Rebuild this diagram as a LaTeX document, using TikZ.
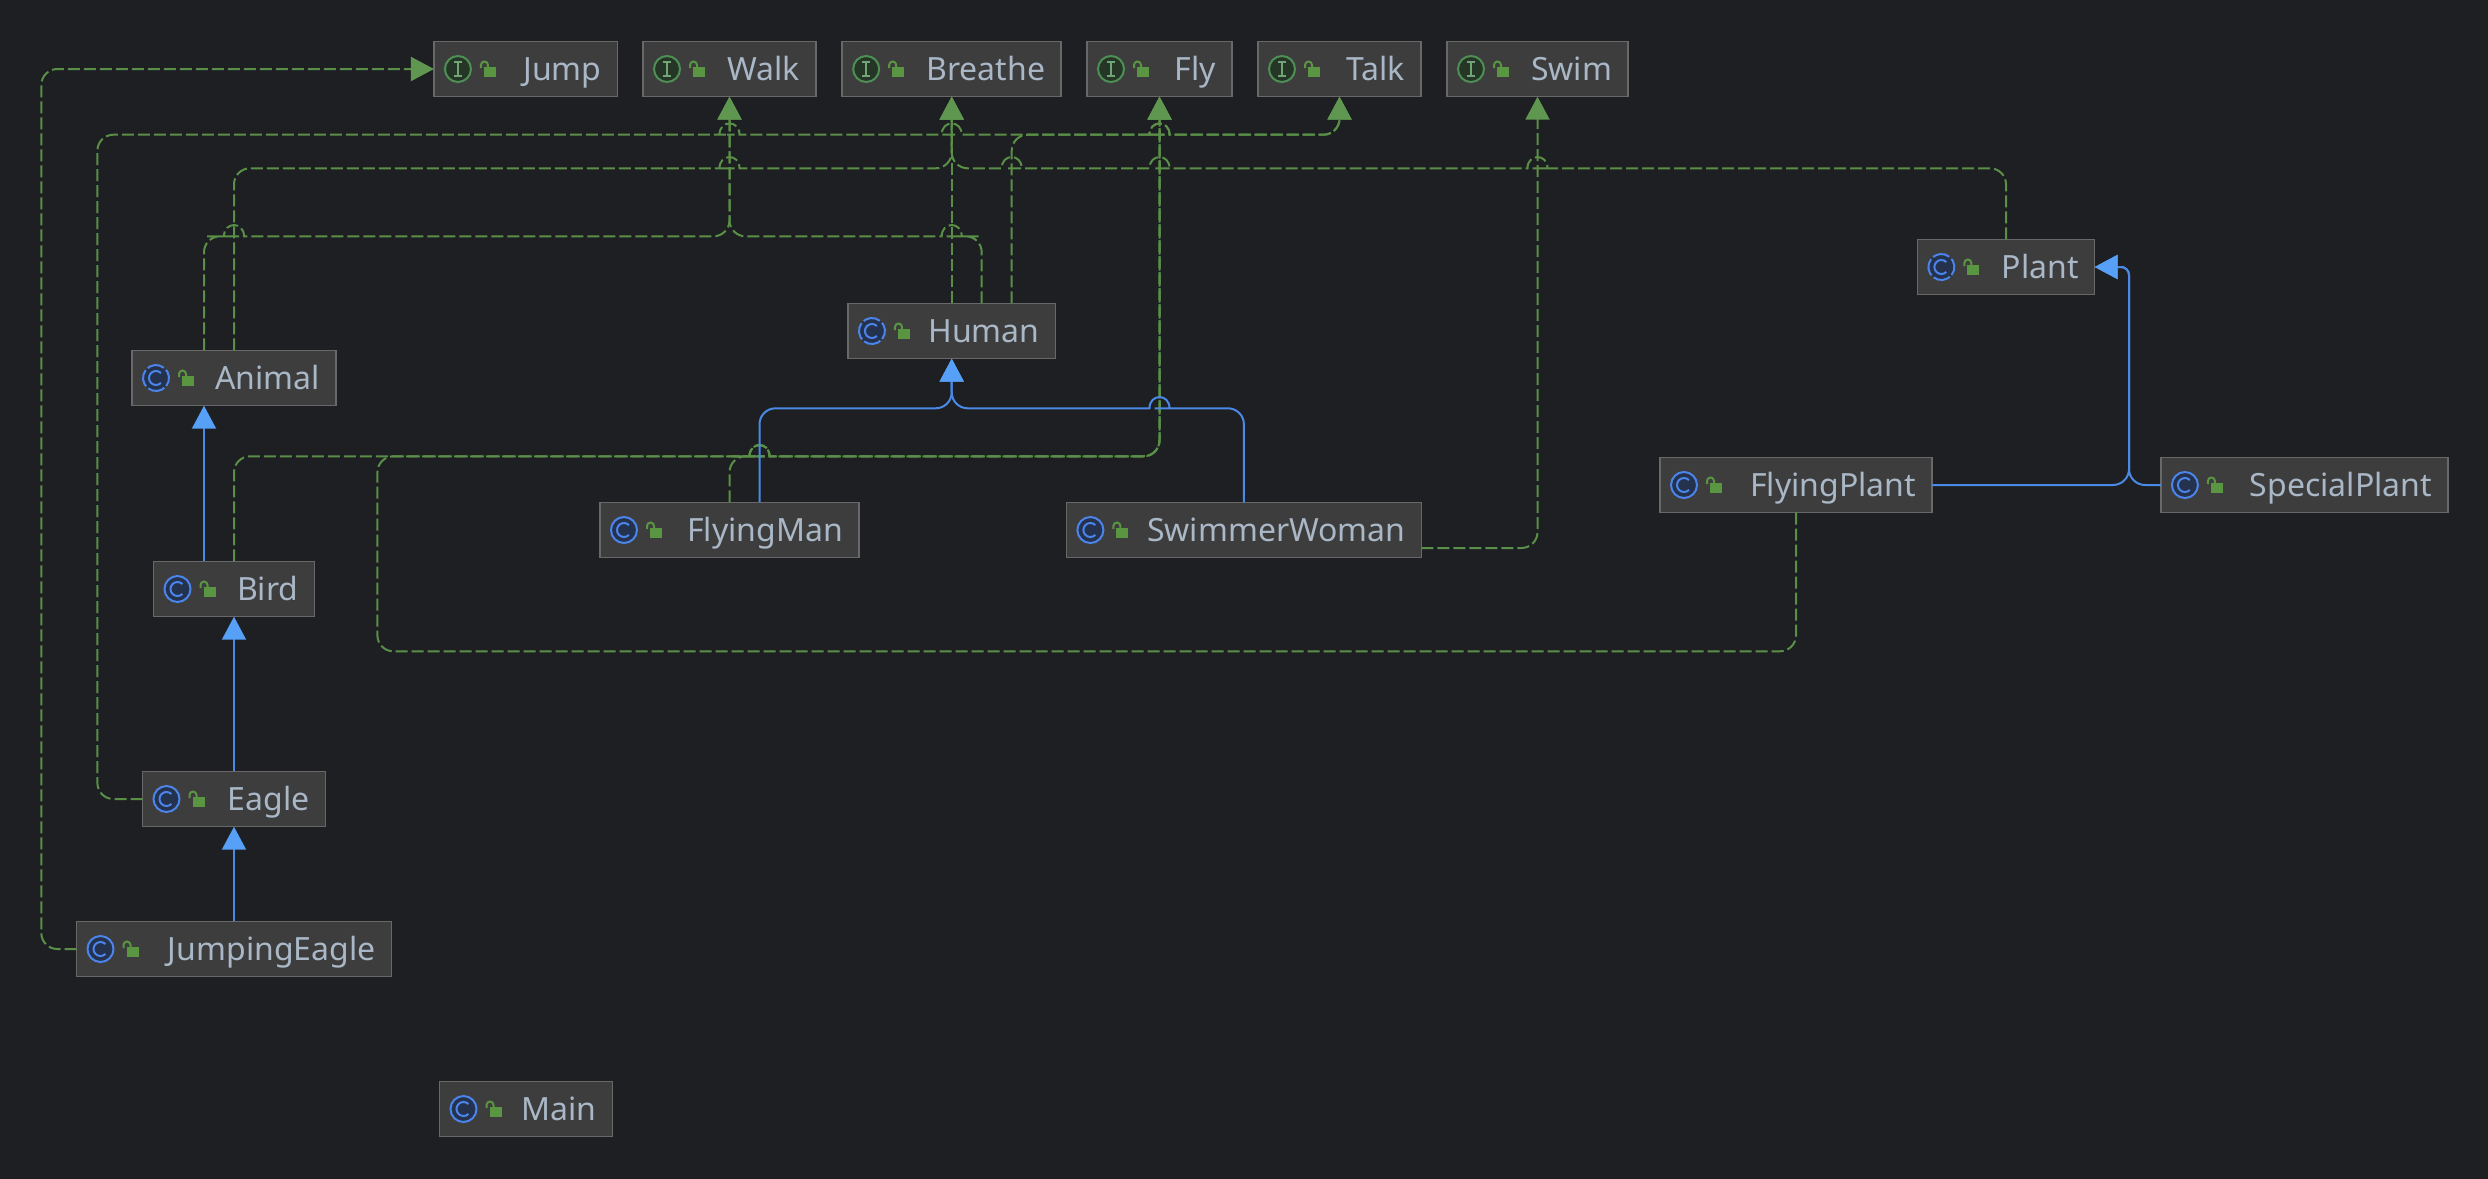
\documentclass[tikz,border=0pt]{standalone}
\usepackage{fontspec}
\setmainfont{Noto Sans}
\usetikzlibrary{arrows.meta,calc}
\definecolor{bgdark}{HTML}{1E1F22}
\definecolor{boxfill}{HTML}{3D3D3D}
\definecolor{boxline}{HTML}{686868}
\definecolor{boxtext}{HTML}{A9B7C6}
\definecolor{linegreen}{HTML}{5A8F47}
\definecolor{tipgreen}{HTML}{5F9650}
\definecolor{lineblue}{HTML}{4A8AE6}
\definecolor{tipblue}{HTML}{56A0F8}
\definecolor{iconblue}{HTML}{4B84EA}
\definecolor{iconbluefill}{HTML}{25324D}
\definecolor{icongreen}{HTML}{4E8F55}
\definecolor{icongreenfill}{HTML}{253627}
\definecolor{lockgreen}{HTML}{5A9642}
\tikzset{umlbox/.style={
    draw=boxline,
    fill=boxfill,
    line width=1.5pt,
    text=boxtext,
    font=\fontsize{32}{36}\selectfont,
    text width=#1pt,
    align=right,
    inner xsep=16pt,
    inner ysep=0pt,
    outer sep=0pt,
    text height=39.4pt,
    text depth=16pt
  },
  realize/.style={
    draw=linegreen,
    line width=2pt,
    dash pattern=on 12pt off 4pt,
    rounded corners=16pt,
    -{Triangle[width=24pt,length=23pt,color=tipgreen]}
  },
  extend/.style={
    draw=lineblue,
    line width=2pt,
    rounded corners=16pt,
    -{Triangle[width=24pt,length=23pt,color=tipblue]}
  },
  lockicon/.pic={
    \fill[lockgreen] (26,-2) rectangle (38,8);
    \draw[lockgreen,line width=2pt] (23,-1) -- (23,-4) arc[start angle=180,end angle=0,radius=3.5pt] -- (30,-2);
  },
  classicon/.pic={
    \draw[iconblue,fill=iconbluefill,line width=2pt] (0,0) circle (13pt);
    \draw[iconblue,line width=2pt] (45:7pt) arc[start angle=45,end angle=315,radius=7pt];
    \pic {lockicon};
  },
  abstracticon/.pic={
    \draw[iconblue,fill=iconbluefill,line width=2pt,dash pattern=on 17.4pt off 3pt,rotate=-38] (0,0) circle (13pt);
    \draw[iconblue,line width=2pt] (45:7pt) arc[start angle=45,end angle=315,radius=7pt];
    \pic {lockicon};
  },
  ifaceicon/.pic={
    \draw[icongreen,fill=icongreenfill,line width=2pt] (0,0) circle (13pt);
    \draw[icongreen!80!white,line width=1.5pt] (-4,-7) -- (4,-7) (-4,7) -- (4,7) (0,-7) -- (0,7);
    \pic {lockicon};
  }
}
% -- A line jumping over another one, walked to the right or to the left.
\newcommand{\hopR}[1]{-- ($(#1)+(-11,0)$) [sharp corners] -- ($(#1)+(-10,0)$) .. controls ($(#1)+(-10,-15)$) and ($(#1)+(10,-15)$) .. ($(#1)+(10,0)$) -- ($(#1)+(11,0)$) [rounded corners=16pt]}
\newcommand{\hopL}[1]{-- ($(#1)+(11,0)$) [sharp corners] -- ($(#1)+(10,0)$) .. controls ($(#1)+(10,-15)$) and ($(#1)+(-10,-15)$) .. ($(#1)+(-10,0)$) -- ($(#1)+(-11,0)$) [rounded corners=16pt]}

\begin{document}
\begin{tikzpicture}[x=1pt,y=-1pt]
  \useasboundingbox (0,0) rectangle (2488,1178);
  \fill[bgdark] (-5,-5) rectangle (2493,1183);

  % -- The interfaces.
  \node[umlbox=151.5] (Jump) at (525.7,69) {Jump};
  \node[umlbox=141] (Walk) at (729.5,69) {Walk};
  \node[umlbox=187] (Breathe) at (951.7,69) {Breathe};
  \node[umlbox=113] (Fly) at (1159.5,69) {Fly};
  \node[umlbox=131] (Talk) at (1339.5,69) {Talk};
  \node[umlbox=149] (Swim) at (1537.5,69) {Swim};

  % -- The classes.
  \node[umlbox=175.5] (Human) at (951.7,331) {Human};
  \node[umlbox=172] (Animal) at (234,378) {Animal};
  \node[umlbox=129] (Bird) at (234,589) {Bird};
  \node[umlbox=151] (Eagle) at (234,799) {Eagle};
  \node[umlbox=283] (JumpingEagle) at (234,949) {JumpingEagle};
  \node[umlbox=141] (Main) at (526,1109) {Main};
  \node[umlbox=227] (FlyingMan) at (729.5,530) {FlyingMan};
  \node[umlbox=323] (SwimmerWoman) at (1243.9,530) {SwimmerWoman};
  \node[umlbox=145.3] (Plant) at (2006,267) {Plant};
  \node[umlbox=240] (FlyingPlant) at (1796,485) {FlyingPlant};
  \node[umlbox=255] (SpecialPlant) at (2304.4,485) {SpecialPlant};

  % -- The icons in the boxes.
  \foreach \n in {Jump,Walk,Breathe,Fly,Talk,Swim}
    \pic at ([xshift=24pt]\n.west) {ifaceicon};
  \foreach \n in {Bird,Eagle,JumpingEagle,Main,FlyingMan,SwimmerWoman,FlyingPlant,SpecialPlant}
    \pic at ([xshift=24pt]\n.west) {classicon};
  \foreach \n in {Human,Animal,Plant}
    \pic at ([xshift=24pt]\n.west) {abstracticon};

  % -- The lanes the connectors run along.
  \coordinate (laneA) at (0,134.7);
  \coordinate (laneB) at (0,168.3);
  \coordinate (laneC) at (0,236.3);
  \coordinate (laneF) at (0,408.3);
  \coordinate (laneD) at (0,456.3);
  \coordinate (laneE) at (0,651.3);
  \coordinate (colJ) at (41.3,0);
  \coordinate (colE) at (97.4,0);
  \coordinate (colP) at (377.4,0);
  \coordinate (colT) at (2129,0);
  \coordinate (HumanTalk) at ([xshift=60pt]Human.north);
  \coordinate (HumanWalk) at ([xshift=30pt]Human.north);
  \coordinate (AnimalWalk) at ([xshift=-30pt]Animal.north);
  \coordinate (BirdUp) at ([xshift=-30pt]Bird.north);
  \coordinate (AnimalIn) at ([xshift=-30pt]Animal.south);
  \coordinate (ManUp) at ([xshift=30pt]FlyingMan.north);
  \coordinate (WomanOut) at ([yshift=-18pt]SwimmerWoman.east);

  % -- We draw the dashed realizations.
  \draw[realize] (JumpingEagle.west) -- (colJ |- JumpingEagle.west) -- (colJ |- Jump.west) -- (Jump.west);
  \draw[realize] (Eagle.west) -- (colE |- Eagle.west) -- (colE |- laneA) \hopR{Walk.south |- laneA} \hopR{Breathe.south |- laneA} \hopR{Fly.south |- laneA} -- (Talk.south |- laneA) -- (Talk.south);
  \draw[realize] (HumanTalk) -- (HumanTalk |- laneA) \hopR{Fly.south |- laneA} -- (Talk.south |- laneA) -- (Talk.south);
  \draw[realize] (Animal.north) -- (Animal.north |- laneB) \hopR{Walk.south |- laneB} -- (Breathe.south |- laneB) -- (Breathe.south);
  \draw[realize] (Human.north) -- (Breathe.south);
  \draw[realize] (Plant.north) -- (Plant.north |- laneB) \hopL{Swim.south |- laneB} \hopL{Fly.south |- laneB} \hopL{HumanTalk |- laneB} -- (Breathe.south |- laneB) -- (Breathe.south);
  \draw[realize] (AnimalWalk) -- (AnimalWalk |- laneC) \hopR{Animal.north |- laneC} -- (Walk.south |- laneC) -- (Walk.south);
  \draw[realize] (HumanWalk) -- (HumanWalk |- laneC) \hopL{Human.north |- laneC} -- (Walk.south |- laneC) -- (Walk.south);
  \draw[realize] (Bird.north) -- (Bird.north |- laneD) \hopR{ManUp |- laneD} -- (Fly.south |- laneD) -- (Fly.south);
  \draw[realize] (FlyingMan.north) -- (FlyingMan.north |- laneD) \hopR{ManUp |- laneD} -- (Fly.south |- laneD) -- (Fly.south);
  \draw[realize] (FlyingPlant.south) -- (FlyingPlant.south |- laneE) -- (colP |- laneE) -- (colP |- laneD) \hopR{ManUp |- laneD} -- (Fly.south |- laneD) -- (Fly.south);
  \draw[realize] (WomanOut) -- (Swim.south |- WomanOut) -- (Swim.south);

  % -- We draw the solid inheritance arrows.
  \draw[extend] (BirdUp) -- (AnimalIn);
  \draw[extend] (Eagle.north) -- (Bird.south);
  \draw[extend] (JumpingEagle.north) -- (Eagle.south);
  \draw[extend] (ManUp) -- (ManUp |- laneF) -- (Human.south |- laneF) -- (Human.south);
  \draw[extend] (SwimmerWoman.north) -- (SwimmerWoman.north |- laneF) \hopL{Fly.south |- laneF} -- (Human.south |- laneF) -- (Human.south);
  \draw[extend] (FlyingPlant.east) -- (colT |- FlyingPlant.east) [rounded corners=8pt] -- (colT |- Plant.east) -- (Plant.east);
  \draw[extend] (SpecialPlant.west) -- (colT |- SpecialPlant.west) [rounded corners=8pt] -- (colT |- Plant.east) -- (Plant.east);
\end{tikzpicture}
\end{document}
